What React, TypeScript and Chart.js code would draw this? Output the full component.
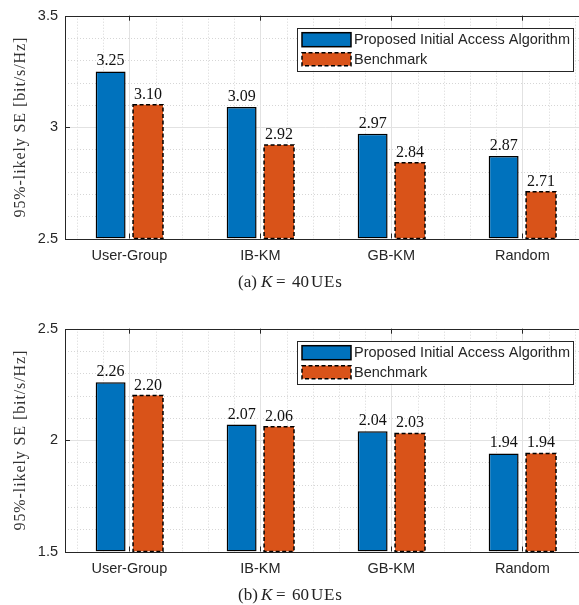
import React, { useEffect, useRef } from "react";
import { Chart, registerables } from "chart.js";

Chart.register(...registerables);

const categories = ["User-Group", "IB-KM", "GB-KM", "Random"];
const seriesNames = ["Proposed Initial Access Algorithm", "Benchmark"];
const proposedK40 = [3.25, 3.09, 2.97, 2.87];
const benchmarkK40 = [3.1, 2.92, 2.84, 2.71];
const proposedK60 = [2.26, 2.07, 2.04, 1.94];
const benchmarkK60 = [2.2, 2.06, 2.03, 1.94];
const yTicksK40 = [2.5, 3, 3.5];
const yTicksK60 = [1.5, 2, 2.5];
const captionA = ["(a)", "K", "=", "40", "UEs"];
const captionB = ["(b)", "K", "=", "60", "UEs"];
const yTitle = "95%-likely SE [bit/s/Hz]";

const BLUE = "#0072BD";
const ORANGE = "#D95319";
const AXIS = "#262626";
const SANS = "'Liberation Sans', Arial, sans-serif";
const SERIF = "'Liberation Serif', 'Times New Roman', serif";

const px = (v: number) => Math.round(v) + 0.5;

const panelPlugin = {
  id: "panel",
  beforeDatasetsDraw(chart: any) {
    const { ctx, chartArea: a, scales } = chart;
    const x = scales.x;
    const y = scales.y;
    const o = chart.options.plugins.panel;
    const yMin = o.yTicks[0];
    const yMax = o.yTicks[2];
    ctx.save();
    ctx.beginPath();
    ctx.rect(a.left, a.top, a.right - a.left, a.bottom - a.top);
    ctx.clip();
    // minor grid
    ctx.strokeStyle = "#d6d6d6";
    ctx.lineWidth = 1;
    ctx.setLineDash([1, 2]);
    for (let i = 1; i < 10; i++) {
      if (i === 5) continue;
      const yy = px(y.getPixelForValue(yMin + (i * (yMax - yMin)) / 10));
      ctx.beginPath();
      ctx.moveTo(a.left, yy);
      ctx.lineTo(a.right, yy);
      ctx.stroke();
    }
    for (let k = 3; k <= 22; k++) {
      if (k % 5 === 0) continue;
      const xx = px(x.getPixelForValue(k * 0.2));
      ctx.beginPath();
      ctx.moveTo(xx, a.top);
      ctx.lineTo(xx, a.bottom);
      ctx.stroke();
    }
    // major grid
    ctx.setLineDash([]);
    ctx.strokeStyle = "#e2e2e2";
    const ym = px(y.getPixelForValue(o.yTicks[1]));
    ctx.beginPath();
    ctx.moveTo(a.left, ym);
    ctx.lineTo(a.right, ym);
    ctx.stroke();
    categories.forEach((_, i) => {
      const xx = px(x.getPixelForValue(i + 1));
      ctx.beginPath();
      ctx.moveTo(xx, a.top);
      ctx.lineTo(xx, a.bottom);
      ctx.stroke();
    });
    ctx.restore();
  },
  afterDatasetsDraw(chart: any) {
    const { ctx, chartArea: a, scales } = chart;
    const x = scales.x;
    const y = scales.y;
    const o = chart.options.plugins.panel;
    ctx.save();
    // dashed borders for benchmark bars
    const meta = chart.getDatasetMeta(1);
    ctx.strokeStyle = "#000";
    ctx.lineWidth = 1.5;
    ctx.setLineDash([4, 2.5]);
    meta.data.forEach((el: any) => {
      const p = el.getProps(["x", "y", "base", "width"], true);
      ctx.strokeRect(p.x - p.width / 2, p.y, p.width, p.base - p.y);
    });
    ctx.setLineDash([]);
    // axes box
    ctx.strokeStyle = AXIS;
    ctx.lineWidth = 1;
    ctx.beginPath();
    ctx.moveTo(px(a.left), px(a.top));
    ctx.lineTo(px(a.right), px(a.top));
    ctx.moveTo(px(a.left), px(a.bottom));
    ctx.lineTo(px(a.right), px(a.bottom));
    ctx.moveTo(px(a.left), px(a.top));
    ctx.lineTo(px(a.left), px(a.bottom));
    ctx.stroke();
    // inward ticks
    ctx.beginPath();
    o.yTicks.forEach((v: number) => {
      const yy = px(y.getPixelForValue(v));
      ctx.moveTo(a.left, yy);
      ctx.lineTo(a.left + 5, yy);
    });
    categories.forEach((_, i) => {
      const xx = px(x.getPixelForValue(i + 1));
      ctx.moveTo(xx, a.top);
      ctx.lineTo(xx, a.top + 5);
      ctx.moveTo(xx, a.bottom);
      ctx.lineTo(xx, a.bottom - 5);
    });
    ctx.stroke();
    // value labels
    ctx.fillStyle = "#111";
    ctx.font = `16px ${SERIF}`;
    ctx.textAlign = "center";
    ctx.textBaseline = "alphabetic";
    [0, 1].forEach((d) => {
      const m = chart.getDatasetMeta(d);
      const vals = chart.data.datasets[d].data;
      m.data.forEach((el: any, i: number) => {
        const p = el.getProps(["x", "y"], true);
        ctx.fillText(vals[i].y.toFixed(2), p.x, p.y - 6);
      });
    });
    ctx.restore();
  },
  afterDraw(chart: any) {
    const { ctx, chartArea: a } = chart;
    const o = chart.options.plugins.panel;
    ctx.save();
    // legend
    const bl = a.right - 288.5;
    const bt = a.top + 12;
    ctx.fillStyle = "#fff";
    ctx.fillRect(bl, bt, 276, 43);
    ctx.strokeStyle = AXIS;
    ctx.lineWidth = 1;
    ctx.strokeRect(px(bl), px(bt), 276, 43);
    ctx.fillStyle = BLUE;
    ctx.fillRect(bl + 5, bt + 5, 49, 14);
    ctx.strokeStyle = "#000";
    ctx.lineWidth = 1.5;
    ctx.strokeRect(bl + 5, bt + 5, 49, 14);
    ctx.fillStyle = ORANGE;
    ctx.fillRect(bl + 5, bt + 25, 49, 13);
    ctx.setLineDash([4, 2.5]);
    ctx.strokeRect(bl + 5, bt + 25, 49, 13);
    ctx.setLineDash([]);
    ctx.fillStyle = AXIS;
    ctx.font = `14.5px ${SANS}`;
    ctx.textAlign = "left";
    ctx.textBaseline = "middle";
    ctx.fillText(seriesNames[0], bl + 57, bt + 12.5);
    ctx.fillText(seriesNames[1], bl + 57, bt + 32);
    // y title
    ctx.save();
    ctx.translate(21, (a.top + a.bottom) / 2);
    ctx.rotate(-Math.PI / 2);
    ctx.fillStyle = "#333";
    ctx.font = `16px ${SERIF}`;
    (ctx as any).letterSpacing = "0.9px";
    ctx.textAlign = "center";
    ctx.textBaseline = "middle";
    ctx.fillText(yTitle, 0, 0);
    ctx.restore();
    // caption
    const c = o.caption;
    const base = 287;
    ctx.fillStyle = "#222";
    ctx.textAlign = "left";
    ctx.textBaseline = "alphabetic";
    (ctx as any).letterSpacing = "0px";
    const offs = [238, 261, 276, 292, 311];
    c.forEach((t: string, i: number) => {
      ctx.font = i === 1 ? `italic 17px ${SERIF}` : `17px ${SERIF}`;
      (ctx as any).letterSpacing = i === 4 ? "0.8px" : "0px";
      ctx.fillText(t, offs[i], base);
    });
    (ctx as any).letterSpacing = "0px";
    ctx.restore();
  },
};

function makeConfig(proposed: number[], benchmark: number[], yTicks: number[], caption: string[]): any {
  return {
    type: "bar",
    data: {
      datasets: [
        {
          label: seriesNames[0],
          data: proposed.map((v, i) => ({ x: i + 1, y: v })),
          backgroundColor: BLUE,
          borderColor: "#000",
          borderWidth: 1.5,
          borderSkipped: false,
          base: yTicks[0],
        },
        {
          label: seriesNames[1],
          data: benchmark.map((v, i) => ({ x: i + 1, y: v })),
          backgroundColor: ORANGE,
          borderWidth: 0,
          base: yTicks[0],
        },
      ],
    },
    options: {
      animation: false,
      responsive: false,
      events: [],
      layout: { padding: { top: 13, right: 4.5, bottom: 21.5, left: 0 } },
      datasets: { bar: { categoryPercentage: 0.571, barPercentage: 0.8 } },
      scales: {
        x: {
          type: "linear",
          offset: false,
          min: 0.509,
          max: 4.482,
          grid: { display: false, drawTicks: false },
          border: { display: false },
          ticks: {
            padding: 9,
            color: AXIS,
            font: { family: SANS, size: 14.5 },
            callback: (v: number) => categories[Math.round(v) - 1] ?? "",
          },
          afterBuildTicks: (s: any) => {
            s.ticks = categories.map((_, i) => ({ value: i + 1 }));
          },
          afterFit: (s: any) => {
            s.height = 40;
          },
        },
        y: {
          type: "linear",
          min: yTicks[0],
          max: yTicks[2],
          grid: { display: false, drawTicks: false },
          border: { display: false },
          ticks: {
            padding: 7,
            color: AXIS,
            font: { family: SANS, size: 14.5 },
            callback: (v: number) => String(v),
          },
          afterBuildTicks: (s: any) => {
            s.ticks = yTicks.map((v) => ({ value: v }));
          },
          afterFit: (s: any) => {
            s.width = 65;
          },
        },
      },
      plugins: {
        legend: { display: false },
        tooltip: { enabled: false },
        panel: { caption, yTicks },
      },
    },
    plugins: [panelPlugin],
  };
}

function Panel({ top, proposed, benchmark, yTicks, caption }: any) {
  const ref = useRef<HTMLCanvasElement | null>(null);
  useEffect(() => {
    if (!ref.current) return;
    const chart = new Chart(ref.current, makeConfig(proposed, benchmark, yTicks, caption));
    return () => chart.destroy();
  }, []);
  return (
    <canvas
      ref={ref}
      width={590}
      height={300}
      style={{ position: "absolute", left: 0, top, width: 590, height: 300 }}
    />
  );
}

export default function App() {
  return (
    <div
      style={{
        position: "absolute",
        left: 0,
        top: 0,
        width: 579,
        height: 605,
        overflow: "hidden",
        background: "#fff",
      }}
    >
      <Panel top={0} proposed={proposedK40} benchmark={benchmarkK40} yTicks={yTicksK40} caption={captionA} />
      <Panel top={313} proposed={proposedK60} benchmark={benchmarkK60} yTicks={yTicksK60} caption={captionB} />
    </div>
  );
}
